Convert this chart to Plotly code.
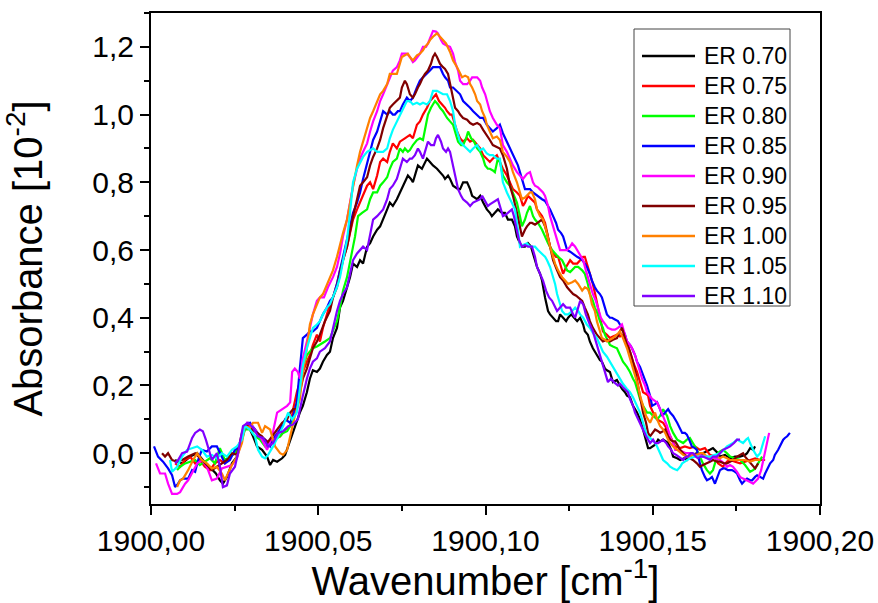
import plotly.graph_objects as go

NU0 = 1900.0  # wavenumber origin (cm^-1); series store offsets from it

ER_070 = [(0.0072,-0.02),(0.0093,-0.03),(0.0117,-0.01),(0.0138,0.0),(0.0155,-0.02),(0.0176,-0.04),(0.0194,-0.06),(0.0206,-0.08),(0.0215,-0.09),(0.0227,-0.07),
(0.0242,-0.03),(0.0257,-0.01),(0.0272,0.05),(0.0284,0.08),(0.0296,0.07),(0.0305,0.05),(0.0317,0.02),(0.0332,0.01),(0.0347,-0.01),(0.0356,-0.035),
(0.0365,-0.02),(0.0377,-0.025),(0.0392,-0.015),(0.0401,-0.005),(0.0416,0.04),(0.0430,0.08),(0.0445,0.12),(0.0454,0.14),(0.0466,0.18),(0.0475,0.22),
(0.0484,0.245),(0.0496,0.24),(0.0505,0.25),(0.0514,0.27),(0.0526,0.29),(0.0535,0.30),(0.0544,0.34),(0.0556,0.37),(0.0565,0.43),(0.0574,0.45),
(0.0586,0.49),(0.0595,0.52),(0.0604,0.56),(0.0616,0.55),(0.0625,0.57),(0.0634,0.56),(0.0646,0.61),(0.0655,0.62),(0.0664,0.64),(0.0676,0.66),
(0.0685,0.67),(0.0694,0.69),(0.0706,0.72),(0.0714,0.74),(0.0723,0.73),(0.0735,0.75),(0.0744,0.77),(0.0750,0.78),(0.0759,0.80),(0.0768,0.82),
(0.0777,0.81),(0.0783,0.80),(0.0792,0.83),(0.0798,0.85),(0.0810,0.84),(0.0825,0.87),(0.0834,0.86),(0.0843,0.85),(0.0855,0.84),(0.0864,0.83),
(0.0873,0.82),(0.0879,0.81),(0.0888,0.82),(0.0894,0.81),(0.0903,0.79),(0.0918,0.78),(0.0924,0.78),(0.0933,0.80),(0.0945,0.80),(0.0954,0.78),
(0.0960,0.76),(0.0975,0.75),(0.0984,0.76),(0.0993,0.74),(0.1004,0.72),(0.1013,0.71),(0.1019,0.70),(0.1028,0.71),(0.1037,0.72),(0.1049,0.71),
(0.1058,0.71),(0.1067,0.69),(0.1079,0.69),(0.1088,0.67),(0.1094,0.64),(0.1103,0.62),(0.1109,0.61),(0.1118,0.61),(0.1127,0.62),(0.1136,0.61),
(0.1142,0.59),(0.1154,0.55),(0.1163,0.53),(0.1169,0.51),(0.1178,0.46),(0.1187,0.42),(0.1193,0.41),(0.1202,0.40),(0.1211,0.39),(0.1217,0.39),
(0.1223,0.41),(0.1232,0.40),(0.1241,0.39),(0.1247,0.40),(0.1256,0.41),(0.1265,0.40),(0.1274,0.39),(0.1283,0.40),(0.1292,0.38),(0.1297,0.36),
(0.1306,0.35),(0.1312,0.33),(0.1321,0.31),(0.1333,0.29),(0.1342,0.275),(0.1348,0.27),(0.1357,0.25),(0.1363,0.245),(0.1372,0.24),(0.1381,0.21),
(0.1393,0.216),(0.1402,0.20),(0.1408,0.19),(0.1417,0.18),(0.1423,0.17),(0.1432,0.165),(0.1441,0.14),(0.1453,0.12),(0.1462,0.10),(0.1471,0.07),
(0.1477,0.05),(0.1486,0.015),(0.1492,0.015),(0.1501,0.02),(0.1507,0.025),(0.1516,0.04),(0.1522,0.035),(0.1531,0.04),(0.1540,0.035),(0.1546,0.03),
(0.1555,0.01),(0.1561,-0.01),(0.1573,-0.015),(0.1582,-0.02),(0.1594,-0.015),(0.1602,-0.02),(0.1611,-0.01),(0.1617,-0.005),(0.1632,0.0),(0.1641,-0.005),
(0.1650,0.0),(0.1662,0.005),(0.1671,0.01),(0.1680,0.015),(0.1686,0.01),(0.1695,0.0),(0.1701,-0.01),(0.1716,-0.005),(0.1731,-0.015),(0.1746,-0.01),
(0.1761,-0.01),(0.1776,-0.005),(0.1782,0.0),(0.1791,0.015),(0.1800,0.01),(0.1806,0.02)]

ER_075 = [(0.0072,-0.03),(0.0087,-0.04),(0.0102,-0.02),(0.0117,-0.01),(0.0132,-0.03),(0.0146,-0.02),(0.0161,-0.04),(0.0176,-0.05),(0.0191,-0.03),(0.0206,-0.02),
(0.0221,-0.03),(0.0236,-0.01),(0.0251,0.0),(0.0266,0.03),(0.0281,0.08),(0.0296,0.08),(0.0311,0.07),(0.0326,0.05),(0.0341,0.04),(0.0356,0.03),
(0.0371,0.05),(0.0386,0.05),(0.0401,0.07),(0.0416,0.08),(0.0425,0.13),(0.0436,0.18),(0.0445,0.21),(0.0454,0.24),(0.0466,0.27),(0.0475,0.29),
(0.0484,0.32),(0.0496,0.35),(0.0505,0.33),(0.0514,0.37),(0.0526,0.41),(0.0535,0.44),(0.0544,0.46),(0.0556,0.50),(0.0565,0.54),(0.0574,0.57),
(0.0586,0.61),(0.0595,0.65),(0.0604,0.69),(0.0616,0.72),(0.0625,0.74),(0.0634,0.76),(0.0646,0.79),(0.0655,0.80),(0.0664,0.78),(0.0676,0.82),
(0.0685,0.86),(0.0694,0.87),(0.0706,0.86),(0.0714,0.89),(0.0723,0.915),(0.0735,0.90),(0.0744,0.92),(0.0759,0.93),(0.0774,0.94),(0.0783,0.93),
(0.0795,0.97),(0.0804,0.98),(0.0813,1.00),(0.0825,1.02),(0.0834,1.04),(0.0843,1.05),(0.0852,1.06),(0.0861,1.04),(0.0870,1.03),(0.0879,1.02),
(0.0885,1.01),(0.0894,1.00),(0.0900,1.00),(0.0909,0.97),(0.0915,0.95),(0.0924,0.93),(0.0933,0.92),(0.0945,0.93),(0.0954,0.92),(0.0963,0.925),
(0.0975,0.91),(0.0984,0.90),(0.0993,0.88),(0.1004,0.87),(0.1013,0.86),(0.1022,0.87),(0.1034,0.88),(0.1043,0.86),(0.1052,0.84),(0.1064,0.82),
(0.1073,0.80),(0.1082,0.78),(0.1094,0.77),(0.1103,0.76),(0.1112,0.73),(0.1118,0.74),(0.1127,0.76),(0.1139,0.75),(0.1148,0.74),(0.1154,0.72),
(0.1163,0.71),(0.1169,0.70),(0.1178,0.68),(0.1187,0.64),(0.1193,0.61),(0.1202,0.59),(0.1211,0.58),(0.1217,0.58),(0.1223,0.56),(0.1232,0.53),
(0.1241,0.55),(0.1253,0.57),(0.1262,0.56),(0.1274,0.56),(0.1283,0.57),(0.1292,0.58),(0.1297,0.58),(0.1306,0.55),(0.1312,0.53),(0.1321,0.50),
(0.1330,0.46),(0.1336,0.43),(0.1345,0.39),(0.1351,0.36),(0.1363,0.35),(0.1372,0.34),(0.1381,0.345),(0.1393,0.35),(0.1402,0.345),(0.1411,0.35),
(0.1423,0.33),(0.1432,0.30),(0.1441,0.27),(0.1453,0.24),(0.1462,0.21),(0.1471,0.18),(0.1480,0.175),(0.1486,0.17),(0.1492,0.14),(0.1501,0.12),
(0.1513,0.10),(0.1522,0.095),(0.1531,0.09),(0.1543,0.07),(0.1552,0.05),(0.1561,0.03),(0.1567,0.02),(0.1582,0.015),(0.1596,0.02),(0.1611,0.015),
(0.1626,0.02),(0.1641,0.01),(0.1656,0.015),(0.1671,-0.005),(0.1686,-0.01),(0.1695,-0.03),(0.1710,-0.04),(0.1722,-0.025),(0.1731,-0.02),(0.1746,-0.025),
(0.1761,-0.03),(0.1776,-0.025),(0.1791,-0.02),(0.1806,-0.015),(0.1821,-0.02),(0.1836,-0.02)]

ER_080 = [(0.0078,-0.05),(0.0087,-0.04),(0.0102,-0.03),(0.0117,-0.025),(0.0132,-0.02),(0.0146,-0.035),(0.0161,-0.025),(0.0176,-0.015),(0.0191,-0.03),(0.0206,0.015),
(0.0221,-0.02),(0.0236,-0.01),(0.0251,0.0),(0.0266,0.02),(0.0281,0.07),(0.0296,0.07),(0.0311,0.05),(0.0326,0.04),(0.0341,0.02),(0.0356,0.025),
(0.0371,0.04),(0.0386,0.05),(0.0395,0.06),(0.0407,0.065),(0.0416,0.08),(0.0425,0.10),(0.0436,0.15),(0.0445,0.21),(0.0454,0.25),(0.0466,0.29),
(0.0475,0.30),(0.0484,0.31),(0.0496,0.315),(0.0505,0.32),(0.0520,0.33),(0.0535,0.34),(0.0544,0.36),(0.0556,0.39),(0.0565,0.43),(0.0574,0.48),
(0.0586,0.52),(0.0595,0.56),(0.0604,0.61),(0.0610,0.64),(0.0619,0.70),(0.0631,0.71),(0.0646,0.72),(0.0655,0.75),(0.0664,0.77),(0.0676,0.77),
(0.0685,0.79),(0.0694,0.80),(0.0706,0.815),(0.0714,0.84),(0.0723,0.86),(0.0735,0.87),(0.0744,0.90),(0.0753,0.89),(0.0759,0.90),(0.0768,0.89),
(0.0774,0.895),(0.0783,0.91),(0.0795,0.925),(0.0804,0.93),(0.0813,0.925),(0.0822,0.97),(0.0828,1.00),(0.0837,1.02),(0.0849,1.04),(0.0858,1.03),
(0.0864,1.02),(0.0873,1.01),(0.0885,0.99),(0.0894,0.98),(0.0903,0.97),(0.0912,0.94),(0.0918,0.92),(0.0927,0.91),(0.0933,0.91),(0.0942,0.93),
(0.0948,0.95),(0.0957,0.93),(0.0966,0.92),(0.0975,0.90),(0.0984,0.89),(0.0993,0.87),(0.0999,0.85),(0.1007,0.84),(0.1013,0.84),(0.1022,0.835),
(0.1028,0.83),(0.1037,0.87),(0.1043,0.86),(0.1052,0.82),(0.1064,0.80),(0.1073,0.79),(0.1082,0.77),(0.1094,0.74),(0.1103,0.70),(0.1109,0.67),
(0.1118,0.69),(0.1124,0.71),(0.1133,0.73),(0.1142,0.70),(0.1148,0.69),(0.1157,0.68),(0.1169,0.66),(0.1178,0.64),(0.1187,0.62),(0.1199,0.60),
(0.1208,0.59),(0.1217,0.58),(0.1229,0.57),(0.1238,0.55),(0.1244,0.54),(0.1253,0.535),(0.1259,0.54),(0.1268,0.55),(0.1277,0.55),(0.1289,0.54),
(0.1297,0.53),(0.1306,0.50),(0.1312,0.47),(0.1321,0.45),(0.1327,0.43),(0.1336,0.41),(0.1342,0.39),(0.1351,0.37),(0.1357,0.35),(0.1366,0.33),
(0.1372,0.32),(0.1381,0.315),(0.1393,0.31),(0.1402,0.29),(0.1411,0.27),(0.1423,0.255),(0.1432,0.24),(0.1441,0.22),(0.1447,0.21),(0.1456,0.18),
(0.1462,0.16),(0.1471,0.14),(0.1483,0.12),(0.1492,0.12),(0.1501,0.11),(0.1513,0.10),(0.1522,0.11),(0.1531,0.13),(0.1543,0.11),(0.1552,0.08),
(0.1561,0.06),(0.1573,0.04),(0.1582,0.035),(0.1591,0.03),(0.1602,0.04),(0.1611,0.045),(0.1620,0.03),(0.1632,0.01),(0.1641,-0.01),(0.1650,-0.03),
(0.1662,-0.05),(0.1671,-0.06),(0.1680,-0.05),(0.1686,-0.03),(0.1695,0.0),(0.1701,0.005),(0.1710,0.01),(0.1722,0.0),(0.1731,-0.01),(0.1746,-0.015),
(0.1761,-0.02),(0.1776,-0.035),(0.1791,-0.055),(0.1800,-0.05),(0.1806,-0.045),(0.1815,-0.03),(0.1827,-0.01)]

ER_085 = [(0.0009,0.02),(0.0021,-0.01),(0.0036,-0.025),(0.0051,-0.045),(0.0063,-0.065),(0.0072,-0.10),(0.0081,-0.09),(0.0087,-0.08),(0.0096,-0.075),(0.0111,-0.075),
(0.0123,-0.05),(0.0132,-0.055),(0.0141,-0.02),(0.0152,0.01),(0.0167,0.005),(0.0182,0.02),(0.0197,0.02),(0.0206,0.0),(0.0221,-0.03),(0.0236,-0.02),
(0.0251,0.01),(0.0266,0.02),(0.0281,0.08),(0.0296,0.09),(0.0311,0.07),(0.0326,0.05),(0.0341,0.04),(0.0356,0.02),(0.0371,0.05),(0.0386,0.07),
(0.0401,0.10),(0.0416,0.09),(0.0425,0.11),(0.0436,0.15),(0.0445,0.25),(0.0454,0.34),(0.0466,0.35),(0.0475,0.36),(0.0484,0.36),(0.0496,0.37),
(0.0505,0.39),(0.0514,0.41),(0.0526,0.43),(0.0535,0.45),(0.0544,0.46),(0.0556,0.50),(0.0565,0.54),(0.0574,0.58),(0.0586,0.63),(0.0595,0.67),
(0.0604,0.71),(0.0616,0.74),(0.0625,0.77),(0.0634,0.81),(0.0646,0.86),(0.0655,0.89),(0.0664,0.925),(0.0676,0.95),(0.0685,0.98),(0.0694,1.01),
(0.0706,1.00),(0.0714,1.01),(0.0723,1.00),(0.0729,1.00),(0.0738,1.01),(0.0744,1.01),(0.0753,1.03),(0.0765,1.05),(0.0774,1.04),(0.0783,1.05),
(0.0795,1.08),(0.0804,1.10),(0.0813,1.11),(0.0825,1.12),(0.0834,1.13),(0.0843,1.14),(0.0855,1.14),(0.0864,1.14),(0.0873,1.12),(0.0879,1.11),
(0.0888,1.10),(0.0894,1.08),(0.0903,1.08),(0.0915,1.07),(0.0924,1.06),(0.0933,1.04),(0.0945,1.03),(0.0954,1.02),(0.0963,1.01),(0.0975,1.00),
(0.0984,0.99),(0.0993,0.99),(0.1004,0.97),(0.1013,0.96),(0.1022,0.95),(0.1034,0.96),(0.1043,0.97),(0.1052,0.945),(0.1064,0.92),(0.1073,0.90),
(0.1082,0.88),(0.1088,0.87),(0.1097,0.85),(0.1103,0.83),(0.1112,0.80),(0.1118,0.78),(0.1127,0.78),(0.1133,0.78),(0.1142,0.77),(0.1154,0.76),
(0.1163,0.755),(0.1169,0.75),(0.1178,0.745),(0.1187,0.73),(0.1193,0.72),(0.1202,0.70),(0.1211,0.68),(0.1217,0.66),(0.1226,0.65),(0.1232,0.64),
(0.1238,0.62),(0.1244,0.60),(0.1253,0.595),(0.1259,0.59),(0.1268,0.585),(0.1274,0.58),(0.1283,0.575),(0.1289,0.57),(0.1297,0.56),(0.1303,0.55),
(0.1312,0.53),(0.1318,0.51),(0.1327,0.49),(0.1333,0.48),(0.1342,0.47),(0.1348,0.46),(0.1357,0.43),(0.1363,0.41),(0.1372,0.40),(0.1378,0.40),
(0.1387,0.395),(0.1396,0.39),(0.1402,0.38),(0.1408,0.37),(0.1417,0.35),(0.1423,0.33),(0.1432,0.32),(0.1438,0.31),(0.1447,0.29),(0.1453,0.27),
(0.1462,0.255),(0.1468,0.24),(0.1477,0.22),(0.1483,0.20),(0.1492,0.17),(0.1498,0.14),(0.1507,0.145),(0.1513,0.15),(0.1522,0.13),(0.1528,0.11),
(0.1537,0.12),(0.1546,0.13),(0.1552,0.12),(0.1561,0.11),(0.1573,0.09),(0.1582,0.07),(0.1588,0.06),(0.1596,0.06),(0.1602,0.055),(0.1611,0.035),
(0.1617,0.02),(0.1626,0.015),(0.1632,0.01),(0.1641,-0.03),(0.1647,-0.05),(0.1656,-0.07),(0.1662,-0.08),(0.1671,-0.075),(0.1677,-0.07),(0.1686,-0.09),
(0.1692,-0.075),(0.1701,-0.05),(0.1710,-0.045),(0.1716,-0.045),(0.1725,-0.05),(0.1737,-0.05),(0.1746,-0.055),(0.1752,-0.06),(0.1761,-0.08),(0.1767,-0.09),
(0.1776,-0.08),(0.1782,-0.075),(0.1791,-0.08),(0.1797,-0.08),(0.1806,-0.07),(0.1812,-0.065),(0.1821,-0.07),(0.1830,-0.075),(0.1836,-0.06),(0.1845,-0.04),
(0.1851,-0.03),(0.1860,-0.02),(0.1865,-0.005),(0.1875,0.01),(0.1880,0.02),(0.1890,0.04),(0.1895,0.045),(0.1902,0.05),(0.1910,0.06)]

ER_090 = [(0.0015,-0.03),(0.0027,-0.06),(0.0042,-0.06),(0.0051,-0.09),(0.0063,-0.12),(0.0078,-0.12),(0.0087,-0.115),(0.0102,-0.09),(0.0111,-0.08),(0.0126,-0.05),
(0.0138,-0.03),(0.0152,-0.02),(0.0167,-0.04),(0.0182,-0.08),(0.0197,-0.075),(0.0212,-0.045),(0.0227,-0.04),(0.0242,-0.035),(0.0257,-0.015),(0.0266,0.02),
(0.0275,0.07),(0.0287,0.09),(0.0302,0.08),(0.0317,0.06),(0.0332,0.04),(0.0347,0.01),(0.0362,0.05),(0.0377,0.12),(0.0392,0.13),(0.0407,0.14),
(0.0416,0.15),(0.0422,0.24),(0.0430,0.25),(0.0439,0.24),(0.0445,0.22),(0.0454,0.28),(0.0466,0.33),(0.0475,0.37),(0.0484,0.41),(0.0496,0.45),
(0.0505,0.46),(0.0517,0.46),(0.0529,0.49),(0.0544,0.52),(0.0556,0.55),(0.0565,0.59),(0.0574,0.64),(0.0586,0.69),(0.0595,0.74),(0.0604,0.79),
(0.0616,0.84),(0.0625,0.87),(0.0634,0.89),(0.0646,0.915),(0.0655,0.95),(0.0664,0.98),(0.0676,1.01),(0.0685,1.04),(0.0694,1.06),(0.0706,1.09),
(0.0714,1.11),(0.0723,1.13),(0.0735,1.14),(0.0744,1.16),(0.0750,1.18),(0.0759,1.18),(0.0765,1.18),(0.0774,1.17),(0.0783,1.155),(0.0789,1.16),
(0.0798,1.17),(0.0804,1.18),(0.0813,1.20),(0.0822,1.20),(0.0828,1.21),(0.0837,1.23),(0.0843,1.247),(0.0852,1.245),(0.0858,1.24),(0.0867,1.22),
(0.0873,1.21),(0.0882,1.205),(0.0894,1.20),(0.0903,1.18),(0.0909,1.155),(0.0918,1.13),(0.0924,1.10),(0.0933,1.09),(0.0945,1.09),(0.0954,1.10),
(0.0960,1.11),(0.0969,1.11),(0.0975,1.11),(0.0984,1.10),(0.0990,1.08),(0.0999,1.06),(0.1007,1.03),(0.1013,1.01),(0.1022,0.99),(0.1034,0.97),
(0.1043,0.96),(0.1052,0.91),(0.1064,0.89),(0.1073,0.87),(0.1082,0.85),(0.1094,0.83),(0.1103,0.82),(0.1112,0.81),(0.1124,0.825),(0.1133,0.83),
(0.1142,0.80),(0.1148,0.79),(0.1157,0.785),(0.1163,0.78),(0.1172,0.77),(0.1178,0.76),(0.1187,0.73),(0.1193,0.70),(0.1202,0.67),(0.1208,0.65),
(0.1217,0.62),(0.1223,0.60),(0.1232,0.60),(0.1244,0.60),(0.1253,0.61),(0.1259,0.62),(0.1268,0.61),(0.1274,0.60),(0.1283,0.585),(0.1292,0.57),
(0.1300,0.54),(0.1306,0.52),(0.1315,0.49),(0.1321,0.47),(0.1330,0.45),(0.1336,0.43),(0.1345,0.40),(0.1351,0.39),(0.1360,0.38),(0.1366,0.37),
(0.1378,0.365),(0.1387,0.365),(0.1396,0.37),(0.1408,0.38),(0.1417,0.35),(0.1423,0.33),(0.1432,0.32),(0.1438,0.31),(0.1447,0.29),(0.1453,0.27),
(0.1462,0.24),(0.1468,0.22),(0.1477,0.20),(0.1483,0.18),(0.1498,0.16),(0.1513,0.15),(0.1522,0.13),(0.1531,0.11),(0.1543,0.08),(0.1552,0.05),
(0.1561,0.03),(0.1567,0.01),(0.1576,0.01),(0.1588,0.005),(0.1599,0.0),(0.1611,0.0),(0.1626,-0.005),(0.1641,-0.005),(0.1656,-0.01),(0.1671,-0.01),
(0.1686,-0.015),(0.1701,-0.02),(0.1713,-0.03),(0.1722,-0.04),(0.1731,-0.035),(0.1740,-0.04),(0.1752,-0.055),(0.1761,-0.07),(0.1770,-0.075),(0.1782,-0.08),
(0.1791,-0.085),(0.1800,-0.09),(0.1809,-0.08),(0.1815,-0.075),(0.1824,-0.05),(0.1830,-0.02),(0.1836,0.01),(0.1842,0.04),(0.1848,0.06)]

ER_095 = [(0.0033,0.0),(0.0042,-0.01),(0.0051,0.0),(0.0063,-0.02),(0.0078,-0.025),(0.0093,-0.02),(0.0111,-0.01),(0.0132,0.0),(0.0152,-0.02),(0.0167,-0.035),
(0.0182,-0.05),(0.0197,-0.04),(0.0212,-0.03),(0.0227,-0.02),(0.0242,0.0),(0.0257,-0.005),(0.0272,0.06),(0.0287,0.08),(0.0302,0.07),(0.0317,0.06),
(0.0332,0.05),(0.0347,0.03),(0.0362,0.05),(0.0377,0.07),(0.0392,0.09),(0.0407,0.10),(0.0416,0.12),(0.0425,0.13),(0.0436,0.13),(0.0445,0.18),
(0.0454,0.22),(0.0466,0.25),(0.0475,0.28),(0.0484,0.31),(0.0496,0.33),(0.0505,0.35),(0.0520,0.39),(0.0535,0.42),(0.0544,0.46),(0.0556,0.49),
(0.0565,0.53),(0.0574,0.57),(0.0586,0.61),(0.0595,0.66),(0.0604,0.70),(0.0616,0.75),(0.0625,0.79),(0.0634,0.80),(0.0646,0.815),(0.0655,0.85),
(0.0664,0.875),(0.0676,0.90),(0.0685,0.925),(0.0694,0.96),(0.0706,1.00),(0.0714,1.02),(0.0723,1.03),(0.0735,1.04),(0.0744,1.05),(0.0750,1.08),
(0.0759,1.10),(0.0765,1.09),(0.0774,1.06),(0.0783,1.05),(0.0789,1.06),(0.0798,1.08),(0.0804,1.09),(0.0813,1.11),(0.0819,1.12),(0.0828,1.13),
(0.0837,1.15),(0.0843,1.17),(0.0849,1.18),(0.0855,1.17),(0.0864,1.15),(0.0873,1.14),(0.0879,1.135),(0.0888,1.12),(0.0894,1.09),(0.0903,1.05),
(0.0909,1.02),(0.0918,1.01),(0.0924,1.00),(0.0933,0.99),(0.0945,0.985),(0.0954,0.975),(0.0963,0.97),(0.0975,0.975),(0.0984,0.97),(0.0993,0.955),
(0.1004,0.94),(0.1013,0.925),(0.1022,0.91),(0.1034,0.905),(0.1043,0.90),(0.1052,0.88),(0.1064,0.84),(0.1073,0.79),(0.1082,0.76),(0.1094,0.71),
(0.1103,0.67),(0.1109,0.64),(0.1118,0.66),(0.1124,0.67),(0.1133,0.68),(0.1139,0.68),(0.1148,0.675),(0.1154,0.68),(0.1163,0.685),(0.1169,0.69),
(0.1178,0.67),(0.1184,0.65),(0.1193,0.61),(0.1202,0.57),(0.1214,0.54),(0.1223,0.52),(0.1232,0.51),(0.1244,0.49),(0.1253,0.48),(0.1262,0.47),
(0.1271,0.465),(0.1277,0.46),(0.1289,0.45),(0.1297,0.43),(0.1306,0.41),(0.1312,0.39),(0.1321,0.37),(0.1333,0.35),(0.1342,0.34),(0.1351,0.33),
(0.1363,0.335),(0.1372,0.33),(0.1381,0.335),(0.1393,0.34),(0.1402,0.36),(0.1408,0.37),(0.1417,0.34),(0.1423,0.32),(0.1432,0.30),(0.1441,0.27),
(0.1450,0.23),(0.1456,0.20),(0.1465,0.16),(0.1471,0.12),(0.1480,0.09),(0.1486,0.06),(0.1492,0.05),(0.1501,0.06),(0.1507,0.07),(0.1516,0.065),
(0.1522,0.06),(0.1531,0.065),(0.1537,0.07),(0.1546,0.05),(0.1552,0.04),(0.1561,0.035),(0.1567,0.035),(0.1576,0.02),(0.1582,0.01),(0.1591,0.0),
(0.1602,-0.01),(0.1611,-0.015),(0.1620,-0.02),(0.1632,-0.03),(0.1641,-0.04),(0.1650,-0.035),(0.1662,-0.03),(0.1671,-0.025),(0.1680,-0.02),(0.1692,-0.025),
(0.1701,-0.025),(0.1713,-0.03),(0.1722,-0.03),(0.1731,-0.025),(0.1740,-0.02),(0.1752,-0.01),(0.1761,-0.005),(0.1770,0.0),(0.1776,-0.01),(0.1785,-0.02),
(0.1791,-0.03),(0.1800,-0.04),(0.1806,-0.045),(0.1815,-0.03)]

ER_100 = [(0.0078,-0.10),(0.0087,-0.08),(0.0096,-0.075),(0.0111,-0.05),(0.0126,-0.02),(0.0138,0.0),(0.0152,-0.02),(0.0167,-0.03),(0.0182,-0.045),(0.0197,-0.04),
(0.0212,-0.06),(0.0221,-0.08),(0.0230,-0.06),(0.0242,-0.035),(0.0257,-0.01),(0.0272,0.03),(0.0281,0.08),(0.0296,0.075),(0.0305,0.09),(0.0320,0.09),
(0.0332,0.06),(0.0341,0.08),(0.0356,0.07),(0.0371,0.02),(0.0386,0.0),(0.0395,-0.005),(0.0407,0.01),(0.0416,0.05),(0.0430,0.11),(0.0445,0.16),
(0.0454,0.24),(0.0466,0.31),(0.0475,0.38),(0.0484,0.41),(0.0496,0.44),(0.0505,0.46),(0.0514,0.47),(0.0526,0.50),(0.0535,0.52),(0.0544,0.54),
(0.0556,0.58),(0.0565,0.62),(0.0574,0.65),(0.0586,0.69),(0.0595,0.74),(0.0604,0.79),(0.0616,0.85),(0.0625,0.89),(0.0634,0.92),(0.0646,0.96),
(0.0655,0.99),(0.0664,1.01),(0.0676,1.04),(0.0685,1.06),(0.0694,1.07),(0.0706,1.09),(0.0714,1.12),(0.0723,1.12),(0.0735,1.12),(0.0744,1.15),
(0.0750,1.17),(0.0759,1.175),(0.0768,1.18),(0.0774,1.17),(0.0783,1.16),(0.0795,1.175),(0.0804,1.18),(0.0813,1.19),(0.0819,1.20),(0.0828,1.21),
(0.0834,1.22),(0.0843,1.23),(0.0855,1.24),(0.0864,1.23),(0.0873,1.22),(0.0882,1.21),(0.0894,1.185),(0.0903,1.16),(0.0915,1.14),(0.0924,1.12),
(0.0930,1.11),(0.0939,1.115),(0.0948,1.11),(0.0954,1.09),(0.0960,1.08),(0.0969,1.06),(0.0975,1.04),(0.0984,1.03),(0.0990,1.01),(0.0999,0.99),
(0.1004,0.97),(0.1013,0.95),(0.1022,0.93),(0.1034,0.935),(0.1043,0.925),(0.1052,0.89),(0.1064,0.875),(0.1073,0.86),(0.1082,0.83),(0.1094,0.80),
(0.1103,0.77),(0.1109,0.75),(0.1118,0.755),(0.1124,0.76),(0.1133,0.77),(0.1139,0.77),(0.1148,0.75),(0.1154,0.72),(0.1163,0.70),(0.1172,0.69),
(0.1181,0.66),(0.1193,0.61),(0.1202,0.58),(0.1208,0.56),(0.1217,0.54),(0.1229,0.52),(0.1238,0.51),(0.1247,0.50),(0.1259,0.505),(0.1268,0.51),
(0.1277,0.50),(0.1289,0.48),(0.1297,0.49),(0.1306,0.485),(0.1312,0.47),(0.1318,0.44),(0.1327,0.42),(0.1333,0.39),(0.1342,0.36),(0.1348,0.34),
(0.1357,0.335),(0.1363,0.33),(0.1372,0.335),(0.1381,0.34),(0.1393,0.35),(0.1402,0.36),(0.1411,0.34),(0.1423,0.31),(0.1432,0.28),(0.1441,0.25),
(0.1450,0.22),(0.1456,0.20),(0.1462,0.17),(0.1471,0.14),(0.1480,0.11),(0.1486,0.10),(0.1492,0.09),(0.1501,0.11),(0.1507,0.12),(0.1513,0.10),
(0.1522,0.08),(0.1531,0.07),(0.1537,0.06),(0.1546,0.04),(0.1552,0.03),(0.1561,0.02),(0.1573,0.01),(0.1582,0.005),(0.1591,-0.005),(0.1602,-0.01),
(0.1611,-0.01),(0.1620,-0.005),(0.1632,-0.005),(0.1641,0.0),(0.1650,0.0),(0.1662,-0.01),(0.1671,-0.015),(0.1680,-0.01),(0.1692,-0.01),(0.1701,-0.015),
(0.1710,-0.01),(0.1722,-0.015),(0.1731,-0.02),(0.1746,-0.02),(0.1761,-0.02),(0.1776,-0.02),(0.1791,-0.025),(0.1806,-0.02),(0.1821,-0.02)]

ER_105 = [(0.0057,-0.02),(0.0063,-0.055),(0.0078,-0.04),(0.0093,-0.01),(0.0108,0.01),(0.0123,0.015),(0.0138,0.02),(0.0152,0.01),(0.0167,-0.01),(0.0182,-0.005),
(0.0197,-0.015),(0.0212,0.0),(0.0227,-0.01),(0.0242,0.01),(0.0257,0.02),(0.0272,0.04),(0.0281,0.08),(0.0296,0.07),(0.0311,0.05),(0.0320,0.01),
(0.0332,-0.01),(0.0341,-0.015),(0.0350,-0.005),(0.0365,0.02),(0.0380,0.05),(0.0395,0.08),(0.0410,0.12),(0.0422,0.10),(0.0436,0.12),(0.0445,0.20),
(0.0454,0.26),(0.0466,0.31),(0.0475,0.34),(0.0484,0.37),(0.0496,0.38),(0.0505,0.39),(0.0514,0.41),(0.0526,0.43),(0.0535,0.44),(0.0544,0.46),
(0.0556,0.49),(0.0565,0.52),(0.0574,0.57),(0.0586,0.63),(0.0595,0.71),(0.0604,0.80),(0.0616,0.84),(0.0625,0.86),(0.0634,0.875),(0.0646,0.89),
(0.0655,0.895),(0.0664,0.90),(0.0676,0.89),(0.0685,0.89),(0.0694,0.89),(0.0706,0.90),(0.0714,0.93),(0.0723,0.955),(0.0735,0.98),(0.0744,1.00),
(0.0753,1.02),(0.0765,1.04),(0.0774,1.04),(0.0783,1.03),(0.0795,1.035),(0.0804,1.03),(0.0813,1.035),(0.0825,1.03),(0.0834,1.04),(0.0843,1.07),
(0.0855,1.07),(0.0864,1.065),(0.0873,1.06),(0.0885,1.06),(0.0894,1.04),(0.0903,1.01),(0.0909,0.97),(0.0915,0.95),(0.0924,0.92),(0.0933,0.91),
(0.0945,0.90),(0.0954,0.89),(0.0963,0.90),(0.0975,0.91),(0.0984,0.895),(0.0993,0.90),(0.1004,0.885),(0.1013,0.88),(0.1022,0.88),(0.1034,0.87),
(0.1043,0.87),(0.1052,0.80),(0.1064,0.77),(0.1073,0.75),(0.1082,0.73),(0.1088,0.72),(0.1097,0.66),(0.1103,0.61),(0.1112,0.615),(0.1124,0.62),
(0.1133,0.61),(0.1139,0.61),(0.1148,0.61),(0.1157,0.60),(0.1169,0.59),(0.1178,0.58),(0.1184,0.57),(0.1193,0.55),(0.1199,0.53),(0.1208,0.50),
(0.1214,0.47),(0.1223,0.44),(0.1229,0.42),(0.1238,0.41),(0.1247,0.41),(0.1259,0.42),(0.1268,0.43),(0.1277,0.42),(0.1283,0.41),(0.1292,0.40),
(0.1303,0.38),(0.1312,0.37),(0.1321,0.355),(0.1333,0.34),(0.1342,0.32),(0.1351,0.30),(0.1363,0.285),(0.1372,0.27),(0.1381,0.255),(0.1393,0.235),
(0.1402,0.22),(0.1411,0.205),(0.1423,0.19),(0.1432,0.18),(0.1441,0.165),(0.1453,0.14),(0.1462,0.12),(0.1468,0.10),(0.1477,0.07),(0.1483,0.05),
(0.1492,0.045),(0.1498,0.04),(0.1507,0.03),(0.1513,0.02),(0.1522,0.0),(0.1531,-0.02),(0.1543,-0.03),(0.1552,-0.04),(0.1561,-0.045),(0.1573,-0.05),
(0.1582,-0.04),(0.1588,-0.03),(0.1596,-0.025),(0.1611,-0.015),(0.1626,-0.01),(0.1641,-0.01),(0.1656,-0.01),(0.1671,-0.01),(0.1686,-0.005),(0.1701,0.0),
(0.1713,0.01),(0.1722,0.02),(0.1731,0.025),(0.1740,0.03),(0.1752,0.04),(0.1761,0.035),(0.1770,0.03),(0.1779,0.04),(0.1785,0.045),(0.1791,0.03),
(0.1800,0.01),(0.1812,-0.01),(0.1821,0.0),(0.1827,0.02),(0.1836,0.05)]

ER_110 = [(0.0072,-0.03),(0.0081,-0.02),(0.0093,0.0),(0.0108,0.005),(0.0123,0.045),(0.0132,0.06),(0.0146,0.07),(0.0155,0.065),(0.0164,0.04),(0.0170,0.02),
(0.0182,-0.02),(0.0197,0.0),(0.0206,-0.04),(0.0215,-0.10),(0.0227,-0.095),(0.0236,-0.06),(0.0251,-0.04),(0.0260,0.0),(0.0275,0.08),(0.0290,0.09),
(0.0305,0.075),(0.0320,0.05),(0.0335,0.045),(0.0350,0.02),(0.0365,0.03),(0.0380,0.06),(0.0395,0.065),(0.0410,0.08),(0.0425,0.085),(0.0439,0.10),
(0.0445,0.13),(0.0454,0.17),(0.0466,0.22),(0.0475,0.25),(0.0484,0.27),(0.0496,0.28),(0.0505,0.30),(0.0520,0.31),(0.0535,0.33),(0.0544,0.37),
(0.0556,0.42),(0.0565,0.45),(0.0574,0.47),(0.0586,0.49),(0.0595,0.53),(0.0604,0.57),(0.0616,0.59),(0.0625,0.60),(0.0634,0.61),(0.0646,0.60),
(0.0655,0.65),(0.0664,0.69),(0.0676,0.70),(0.0685,0.71),(0.0694,0.72),(0.0706,0.75),(0.0714,0.78),(0.0723,0.79),(0.0735,0.81),(0.0744,0.84),
(0.0753,0.87),(0.0765,0.86),(0.0774,0.87),(0.0780,0.87),(0.0789,0.88),(0.0798,0.90),(0.0804,0.89),(0.0813,0.87),(0.0822,0.90),(0.0828,0.92),
(0.0837,0.91),(0.0846,0.91),(0.0852,0.93),(0.0858,0.94),(0.0867,0.92),(0.0873,0.90),(0.0882,0.89),(0.0888,0.90),(0.0894,0.89),(0.0903,0.85),
(0.0909,0.82),(0.0918,0.78),(0.0927,0.76),(0.0933,0.75),(0.0945,0.74),(0.0954,0.73),(0.0963,0.74),(0.0975,0.745),(0.0984,0.75),(0.0990,0.76),
(0.0999,0.745),(0.1007,0.73),(0.1013,0.735),(0.1022,0.74),(0.1031,0.745),(0.1037,0.75),(0.1046,0.72),(0.1052,0.70),(0.1061,0.705),(0.1073,0.715),
(0.1079,0.72),(0.1085,0.70),(0.1094,0.66),(0.1100,0.63),(0.1109,0.61),(0.1118,0.615),(0.1127,0.61),(0.1139,0.61),(0.1148,0.58),(0.1154,0.55),
(0.1163,0.53),(0.1172,0.51),(0.1181,0.48),(0.1190,0.46),(0.1199,0.45),(0.1208,0.43),(0.1214,0.42),(0.1223,0.43),(0.1232,0.44),(0.1241,0.43),
(0.1253,0.43),(0.1262,0.41),(0.1268,0.40),(0.1277,0.43),(0.1283,0.45),(0.1292,0.44),(0.1300,0.41),(0.1312,0.38),(0.1321,0.36),(0.1327,0.34),
(0.1336,0.31),(0.1342,0.29),(0.1351,0.26),(0.1357,0.24),(0.1366,0.21),(0.1375,0.22),(0.1384,0.21),(0.1396,0.20),(0.1402,0.205),(0.1411,0.195),
(0.1417,0.19),(0.1426,0.18),(0.1432,0.16),(0.1441,0.14),(0.1447,0.12),(0.1456,0.10),(0.1465,0.08),(0.1471,0.07),(0.1480,0.05),(0.1486,0.04),
(0.1492,0.03),(0.1501,0.04),(0.1507,0.03),(0.1516,0.03),(0.1522,0.035),(0.1531,0.04),(0.1540,0.03),(0.1546,0.02),(0.1555,0.01),(0.1561,0.0),
(0.1570,-0.005),(0.1576,-0.01),(0.1584,-0.015),(0.1591,-0.02),(0.1599,-0.01),(0.1605,-0.01),(0.1614,0.0),(0.1620,0.0),(0.1629,-0.01),(0.1635,-0.015),
(0.1644,-0.01),(0.1650,-0.01),(0.1662,-0.015),(0.1671,-0.02),(0.1680,-0.01),(0.1692,-0.01),(0.1701,0.0),(0.1710,0.01),(0.1722,0.015),(0.1731,0.02),
(0.1743,0.03),(0.1752,0.04),(0.1761,0.04)]

SERIES = [ER_070, ER_075, ER_080, ER_085, ER_090, ER_095, ER_100, ER_105, ER_110]
NAMES = ["ER 0.70", "ER 0.75", "ER 0.80", "ER 0.85", "ER 0.90",
         "ER 0.95", "ER 1.00", "ER 1.05", "ER 1.10"]
COLORS = ["#000000", "#FF0000", "#00FF00", "#0000FF", "#FF00FF",
          "#800000", "#FF8000", "#00FFFF", "#8000FF"]

FONT = "Arial, 'Liberation Sans', Helvetica, sans-serif"
W, H = 878, 603
ML, MR, MT, MB = 151, 58, 13, 99
PW, PH = W - ML - MR, H - MT - MB


def px(xp):
    """horizontal page pixel -> paper fraction (for the legend box layout)"""
    return (xp - ML) / PW


def py(yp):
    """vertical page pixel -> paper fraction"""
    return (H - MB - yp) / PH


fig = go.Figure()
for pts, name, col in zip(SERIES, NAMES, COLORS):
    fig.add_trace(go.Scatter(
        x=[NU0 + p[0] for p in pts], y=[p[1] for p in pts],
        mode="lines", name=name, showlegend=False,
        line=dict(color=col, width=2.2)))

axis_common = dict(
    showline=True, linecolor="black", linewidth=2, mirror=True,
    showgrid=False, zeroline=False, ticks="outside", ticklen=9,
    tickwidth=2, tickcolor="black", automargin=False,
    tickfont=dict(family=FONT, size=30, color="black"),
)

fig.update_layout(
    template="none",
    width=W, height=H,
    margin=dict(l=ML, r=MR, t=MT, b=MB, pad=0),
    paper_bgcolor="white", plot_bgcolor="white",
    separators=",.",
    font=dict(family=FONT, color="black"),
    showlegend=False,
    xaxis=dict(range=[1900.0, 1900.2], tick0=1900.0, dtick=0.05, tickformat=".2f",
               minor=dict(dtick=0.025, ticks="outside", ticklen=5, tickwidth=2,
                          tickcolor="black", showgrid=False),
               title=dict(text="Wavenumber [cm<sup>-1</sup>]",
                          font=dict(family=FONT, size=40, color="black"), standoff=17),
               **axis_common),
    yaxis=dict(range=[-0.15, 1.30], tick0=0, dtick=0.2, tickformat=".1f",
               minor=dict(dtick=0.1, ticks="outside", ticklen=5, tickwidth=2,
                          tickcolor="black", showgrid=False),
               title=dict(text="Absorbance [10<sup>-2</sup>]",
                          font=dict(family=FONT, size=40, color="black"), standoff=37),
               **axis_common),
)

# legend box drawn in paper space (Origin-style: long line samples, 30 px rows)
fig.add_shape(type="rect", xref="paper", yref="paper",
              x0=px(634), x1=px(790), y0=py(306), y1=py(29),
              line=dict(color="#444444", width=1), fillcolor="white", layer="above")
for i, (name, col) in enumerate(zip(NAMES, COLORS)):
    yc = py(56 + 30 * i)
    fig.add_shape(type="line", xref="paper", yref="paper",
                  x0=px(642), x1=px(695), y0=yc, y1=yc,
                  line=dict(color=col, width=2.5), layer="above")
    fig.add_annotation(xref="paper", yref="paper", x=px(702), y=yc,
                       xanchor="left", yanchor="middle", showarrow=False,
                       text=name, font=dict(family=FONT, size=23, color="black"))

# the page body has a default 8 px margin; remove it so the figure sits at (0, 0)
fig.write_html("out.html", config={"displayModeBar": False},
               post_script="document.body.style.margin='0px';")
